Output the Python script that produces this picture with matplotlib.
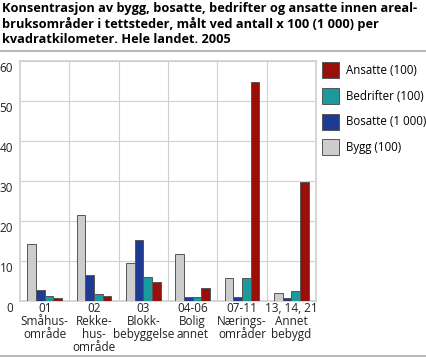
import matplotlib.pyplot as plt
import matplotlib.transforms as mtransforms
import numpy as np

plt.rcParams['font.family'] = ['Open Sans', 'DejaVu Sans']

# data
categories = ['01\nSmåhus-\nområde', '02\nRekke-\nhus-\nområde', '03\nBlokk-\nbebyggelse',
              '04-06\nBolig\nannet', '07-11\nNærings-\nområder', '13, 14, 21\nAnnet\nbebygd']
bygg = [14.3, 21.6, 9.5, 11.8, 5.8, 2.1]
bosatte = [2.7, 6.6, 15.3, 1.1, 1.0, 0.8]
bedrifter = [1.2, 1.8, 6.0, 0.9, 5.8, 2.5]
ansatte = [0.8, 1.25, 4.8, 3.3, 54.75, 29.8]

series = [('Bygg (100)', bygg, '#cccccc'),
          ('Bosatte (1 000)', bosatte, '#1f3a93'),
          ('Bedrifter (100)', bedrifter, '#1a9a9a'),
          ('Ansatte (100)', ansatte, '#9a0f0a')]

fig = plt.figure(figsize=(4.26, 3.57), dpi=100)
ax = fig.add_axes([0.047, 0.157, 0.695, 0.672])

x = np.arange(len(categories))
w = 0.176
handles = []
for i, (name, vals, col) in enumerate(series):
    b = ax.bar(x + (i - 1.5) * w, vals, w, color=col, edgecolor='#555555', linewidth=0.7,
               label=name, zorder=3)
    handles.append(b)

ax.set_xlim(-0.5, len(categories) - 0.5)
ax.set_ylim(0, 60)
ax.set_yticks(range(0, 61, 10))
ax.set_xticks(x)
ax.set_xticklabels(categories, fontsize=8.5, color='#222222', linespacing=1.0)
ax.set_xticks(np.arange(0.5, len(categories) - 0.5), minor=True)
ax.grid(axis='y', color='#d0d0d0', linewidth=0.8, zorder=0)
ax.grid(axis='x', which='minor', color='#d0d0d0', linewidth=0.8, zorder=0)
ax.tick_params(axis='both', which='both', length=0)
ax.tick_params(axis='x', pad=1)
ax.tick_params(axis='y', pad=5, labelsize=8.5, labelcolor='#222222')
for s in ax.spines.values():
    s.set_color('#d0d0d0')
    s.set_linewidth(1.2)

# y labels sit a little below their gridlines
off = mtransforms.ScaledTranslation(0, -4 / 72, fig.dpi_scale_trans)
for lab in ax.get_yticklabels():
    lab.set_transform(lab.get_transform() + off)

fig.legend(handles[::-1], [s[0] for s in series][::-1], loc='upper left',
           bbox_to_anchor=(0.757, 0.826), frameon=False, fontsize=8.3,
           handlelength=1.45, handleheight=1.75, labelspacing=0.85,
           handletextpad=0.55, borderpad=0, borderaxespad=0)

fig.text(0.005, 0.995,
         'Konsentrasjon av bygg, bosatte, bedrifter og ansatte innen areal-\n'
         'bruksområder i tettsteder, målt ved antall x 100 (1 000) per\n'
         'kvadratkilometer. Hele landet. 2005',
         fontsize=9.2, fontweight='bold', va='top', ha='left', linespacing=1.22)

fig.add_artist(plt.Line2D([0, 1], [1 - 51 / 357] * 2, color='#aaaaaa', linewidth=1.2))
fig.add_artist(plt.Line2D([0, 1], [1 - 355.5 / 357] * 2, color='#aaaaaa', linewidth=1.2))

fig.savefig('out.png', dpi=100)
